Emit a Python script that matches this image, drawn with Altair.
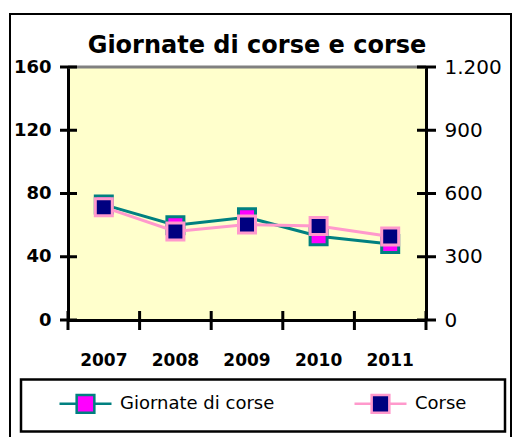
import altair as alt
import pandas as pd

# --- data -------------------------------------------------------------
years = ["2007", "2008", "2009", "2010", "2011"]
giornate = [73, 60, 65, 53, 48]          # giornate di corse (left axis)
corse = [535, 420, 453, 446, 396]        # corse (right axis)
serie = ["Giornate di corse", "Corse"]
ticks_left = [0, 40, 80, 120, 160]
ticks_right = [0, 300, 600, 900, 1200]
title_text = "Giornate di corse e corse"

# --- style ------------------------------------------------------------
W, H = 358, 253
TEAL, MAGENTA, PINK, NAVY = "#008080", "#FF00FF", "#FF99CC", "#000080"
FONT = "DejaVu Sans"

df = pd.DataFrame({
    "anno": years * 2,
    "serie": [serie[0]] * len(years) + [serie[1]] * len(years),
    "valore": giornate + corse,
})
df_left = pd.DataFrame({"valore": ticks_left})
df_right = pd.DataFrame({"valore": ticks_right})
df_years = pd.DataFrame({"anno": years})
one = pd.DataFrame({"k": [0]})

x_scale = alt.Scale(domain=years, paddingInner=0, paddingOuter=0)
x_axis = alt.Axis(title=None, labelAngle=0, ticks=False, tickSize=0,
                  domainColor="black", domainWidth=3,
                  labelFont=FONT, labelFontSize=17, labelFontWeight="bold",
                  labelColor="black", labelPadding=32)
x_enc = alt.X("anno:N", scale=x_scale, axis=x_axis)

left_axis = alt.Axis(title=None, orient="left", values=ticks_left, grid=False,
                     ticks=False, tickSize=0, domainColor="black", domainWidth=3,
                     labelFont=FONT, labelFontSize=18, labelFontWeight="bold",
                     labelColor="black", labelPadding=17)
right_axis = alt.Axis(title=None, orient="right", values=ticks_right, grid=False,
                      ticks=False, tickSize=0, domainColor="black", domainWidth=3,
                      labelFont=FONT, labelFontSize=20, labelColor="black",
                      labelPadding=18,
                      labelExpr="replace(format(datum.value, ','), ',', '.')")
y_left = alt.Y("valore:Q", scale=alt.Scale(domain=[0, 160], nice=False), axis=left_axis)
y_right = alt.Y("valore:Q", scale=alt.Scale(domain=[0, 1200], nice=False), axis=right_axis)

legend = alt.Legend(
    title=None, orient="none", legendX=-10, legendY=309, direction="horizontal",
    symbolType="M-1,0H-0.34M0.34,0H1M-0.34,-0.34H0.34V0.34H-0.34Z",
    symbolSize=2704, symbolStrokeWidth=2.5, symbolOpacity=1,
    labelFont=FONT, labelFontSize=18, labelColor="black", labelOffset=7,
    columnPadding=74, padding=0, labelLimit=400,
)
stroke_enc = alt.Stroke("serie:N", scale=alt.Scale(domain=serie, range=[TEAL, PINK]), legend=legend)
fill_enc = alt.Fill("serie:N", scale=alt.Scale(domain=serie, range=[MAGENTA, NAVY]), legend=legend)

base = alt.Chart(df).encode(x=x_enc)

# Giornate di corse: line + squares on the left scale, cross ticks on the left axis
g_line = base.transform_filter(alt.datum.serie == serie[0]).mark_line(
    color=TEAL, strokeWidth=3).encode(y=y_left)
g_pts = base.transform_filter(alt.datum.serie == serie[0]).mark_square(
    size=289, strokeWidth=3, opacity=1, filled=True).encode(y=y_left, stroke=stroke_enc, fill=fill_enc)
left_ticks = alt.Chart(df_left).mark_rule(color="black", strokeWidth=3).encode(
    y=y_left, x=alt.value(-8), x2=alt.value(9))
left_group = alt.layer(g_line, g_pts, left_ticks)

# Corse: line + squares on the right scale, cross ticks on the right axis
c_line = base.transform_filter(alt.datum.serie == serie[1]).mark_line(
    color=PINK, strokeWidth=3).encode(y=y_right)
c_pts = base.transform_filter(alt.datum.serie == serie[1]).mark_square(
    size=289, strokeWidth=3, opacity=1, filled=True).encode(y=y_right, stroke=stroke_enc, fill=fill_enc)
right_ticks = alt.Chart(df_right).mark_rule(color="black", strokeWidth=3).encode(
    y=y_right, x=alt.value(W - 9), x2=alt.value(W + 10))
right_group = alt.layer(c_line, c_pts, right_ticks)

# category boundaries on the x axis
x_ticks = alt.Chart(df_years).mark_rule(color="black", strokeWidth=3).encode(
    x=alt.X("anno:N", scale=x_scale, axis=x_axis, bandPosition=0),
    y=alt.value(H - 9), y2=alt.value(H + 10))
x_end_tick = alt.Chart(one).mark_rule(color="black", strokeWidth=3).encode(
    x=alt.value(W), y=alt.value(H - 9), y2=alt.value(H + 10))

# frame, top border of the plot, legend box and title
frame = alt.Chart(one).mark_rect(fill="transparent", stroke="black", strokeWidth=2).encode(
    x=alt.value(-58), x2=alt.value(443), y=alt.value(-53), y2=alt.value(420))
top_rule = alt.Chart(one).mark_rule(color="#808080", strokeWidth=3).encode(
    x=alt.value(0), x2=alt.value(W), y=alt.value(0))
legend_box = alt.Chart(one).mark_rect(fill="transparent", stroke="black", strokeWidth=2.5).encode(
    x=alt.value(-47), x2=alt.value(437), y=alt.value(312.5), y2=alt.value(364.5))
title = alt.Chart(one).mark_text(
    font=FONT, fontSize=24, fontWeight="bold", color="black",
    align="center", baseline="alphabetic").encode(
    x=alt.value(W / 2 + 10), y=alt.value(-14), text=alt.value(title_text))

chart = alt.layer(
    frame, legend_box, top_rule, left_group, right_group, x_ticks, x_end_tick, title
).resolve_scale(y="independent").properties(
    width=W, height=H,
    autosize=alt.AutoSizeParams(type="none"),
    padding={"left": 68, "top": 67, "right": 87, "bottom": 117},
    background="white",
).configure_view(fill="#FFFFCC", stroke=None)

chart.save("out.html", embed_options={"renderer": "svg", "actions": False})
